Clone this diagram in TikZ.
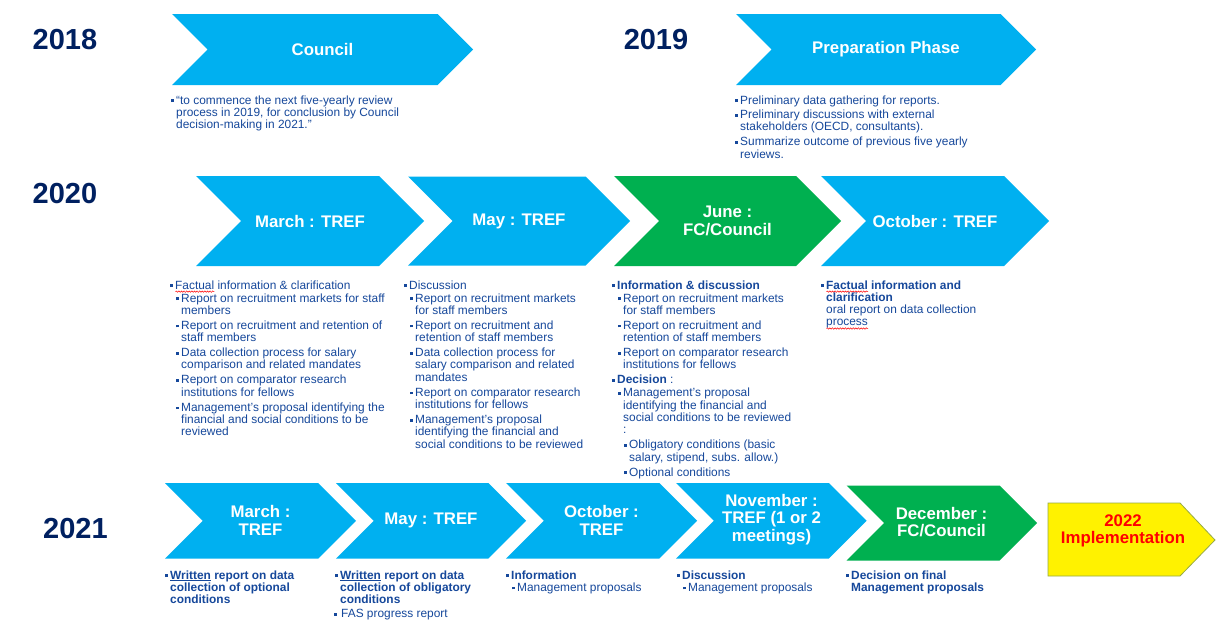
\documentclass[tikz,border=0pt]{standalone}
\usepackage{fontspec}
\setmainfont{Liberation Sans}
\usetikzlibrary{decorations.pathmorphing}
\definecolor{cyanb}{HTML}{00B0F0}
\definecolor{greenb}{HTML}{00B050}
\definecolor{navy}{HTML}{002060}
\definecolor{bodyc}{RGB}{22,72,155}
\definecolor{olivec}{RGB}{150,170,70}
\newlength\splen
\newcommand\bul{\rule[2pt]{2.7pt}{2.7pt}}
\newcommand\bi[2]{\par{\leftskip=#1\relax\noindent\llap{\bul\hspace{2.7pt}}#2\par}}
\newcommand\gp{\vspace{2.7pt}}
\newcommand\gq{\vspace{0.7pt}}
\newcommand\spell[1]{\leavevmode\settowidth\splen{#1}\rlap{\tikz[baseline=0pt]\draw[red,line width=0.5pt,decorate,decoration={snake,amplitude=0.7pt,segment length=2.6pt}] (0pt,-2.6pt) -- (\splen,-2.6pt);}#1}
\newcommand\colbox[1]{\begin{minipage}[t]{300pt}\raggedright\setlength\parskip{0pt}#1\end{minipage}}
\newcommand\chev[5]{\fill[#1] (#2,#4) -- ({#3-(#5-#4)/2},#4) -- (#3,{(#4+#5)/2}) -- ({#3-(#5-#4)/2},#5) -- (#2,#5) -- ({#2+(#5-#4)/2},{(#4+#5)/2}) -- cycle;}
\begin{document}
\begin{tikzpicture}[x=1pt,y=-1pt,
  yearlbl/.style={font=\fontsize{29}{30}\selectfont\bfseries, text=navy, inner sep=0},
  ttl/.style={font=\fontsize{16.8}{17.5}\selectfont\bfseries, text=white, align=center, inner sep=0},
  col/.style={anchor=base west, inner sep=0, text=bodyc, font=\fontsize{11.9}{12.3}\selectfont}]
\useasboundingbox (0,0) rectangle (1226,621);
\fill[white] (0,0) rectangle (1226,621);
% years
\node[yearlbl] (y2018) at (65,39.5) {2018};
\node[yearlbl] (y2019) at (656,39.5) {2019};
\node[yearlbl] (y2020) at (65,194) {2020};
\node[yearlbl] (y2021) at (75.5,529) {2021};
% chevrons
\chev{cyanb}{172}{473}{14}{85}
\chev{cyanb}{736}{1036}{14}{85}
\chev{cyanb}{196}{424}{176}{266}
\chev{cyanb}{408}{630}{176.5}{265.5}
\chev{greenb}{614}{841}{176}{266}
\chev{cyanb}{821}{1049}{176}{266}
\chev{cyanb}{165}{356}{483}{558.5}
\chev{cyanb}{336}{526}{483}{558.5}
\chev{cyanb}{506}{697}{483}{558.5}
\chev{cyanb}{676}{866.5}{483}{558.5}
\chev{greenb}{846.5}{1037}{485.5}{560.5}
\draw[olivec, fill=yellow, line width=0.8pt] (1048,503) -- (1180,503) -- (1215,540) -- (1180,576) -- (1048,576) -- cycle;
% titles
\node[ttl] (c18) at (322.5,49.5) {Council};
\node[ttl] (p19) at (886,49.5) {Preparation Phase};
\node[ttl] (m20) at (310,221) {March : TREF};
\node[ttl] (my20) at (519,221) {May : TREF};
\node[ttl] (j20) at (727.5,221) {June :\\FC/Council};
\node[ttl] (o20) at (935,221) {October : TREF};
\node[ttl] (m21) at (260.5,520.5) {March :\\TREF};
\node[ttl] (my21) at (431,520.5) {May : TREF};
\node[ttl] (o21) at (601.5,520.5) {October :\\TREF};
\node[ttl] (n21) at (771.5,519.5) {November :\\TREF (1 or 2\\meetings)};
\node[ttl] (d21) at (941.5,522) {December :\\FC/Council};
\node[ttl, text=red] (imp) at (1123,531) {2022\\Implementation};
% 2018 / 2019 texts
\node[col] (t18) at (176,104) {\colbox{\bi{0pt}{“to commence the next five-yearly review\\process in 2019, for conclusion by Council\\decision-making in 2021.”}}};
\node[col] (t19) at (740,104) {\colbox{%
\bi{0pt}{Preliminary data gathering for reports.}\vspace{2.2pt}%
\bi{0pt}{Preliminary discussions with external\\stakeholders (OECD, consultants).}\gp
\bi{0pt}{Summarize outcome of previous five yearly\\reviews.}}};
% 2020 texts
\node[col] (t20a) at (175,289) {\colbox{%
\bi{0pt}{\spell{Factual} information \& clarification}\gq
\bi{6pt}{Report on recruitment markets for staff\\members}\gp
\bi{6pt}{Report on recruitment and retention of\\staff members}\gp
\bi{6pt}{Data collection process for salary\\comparison and related mandates}\gp
\bi{6pt}{Report on comparator research\\institutions for fellows}\gp
\bi{6pt}{Management's proposal identifying the\\financial and social conditions to be\\reviewed}}};
\node[col] (t20b) at (409,289) {\colbox{%
\bi{0pt}{Discussion}\gq
\bi{6pt}{Report on recruitment markets\\for staff members}\gp
\bi{6pt}{Report on recruitment and\\retention of staff members}\gp
\bi{6pt}{Data collection process for\\salary comparison and related\\mandates}\gp
\bi{6pt}{Report on comparator research\\institutions for fellows}\gp
\bi{6pt}{Management's proposal\\identifying the financial and\\social conditions to be reviewed}}};
\node[col] (t20c) at (617,289) {\colbox{%
\bi{0pt}{{\bfseries Information \& discussion}}\gq
\bi{6pt}{Report on recruitment markets\\for staff members}\gp
\bi{6pt}{Report on recruitment and\\retention of staff members}\gp
\bi{6pt}{Report on comparator research\\institutions for fellows}\gp
\bi{0pt}{{\bfseries Decision} :}\gq
\bi{6pt}{Management's proposal\\identifying the financial and\\social conditions to be reviewed\\:}\gp
\bi{12pt}{Obligatory conditions (basic\\salary, stipend, subs. allow.)}\gp
\bi{12pt}{Optional conditions}}};
\node[col] (t20d) at (826,289) {\colbox{%
\bi{0pt}{{\bfseries\spell{Factual} information and\\clarification}\\oral report on data collection\\\spell{process}}}};
% 2021 texts
\node[col] (t21a) at (170,579) {\colbox{%
\bi{0pt}{{\bfseries\underline{Written} report on data\\collection of optional\\conditions}}}};
\node[col] (t21b) at (340,579) {\colbox{%
\bi{0pt}{{\bfseries\underline{Written} report on data\\collection of obligatory\\conditions}}\vspace{1.8pt}%
\par{\leftskip=1pt\noindent\llap{\bul\hspace{4.5pt}}FAS progress report\par}}};
\node[col] (t21c) at (511,579) {\colbox{%
\bi{0pt}{{\bfseries Information}}%
\bi{6pt}{Management proposals}}};
\node[col] (t21d) at (682,579) {\colbox{%
\bi{0pt}{{\bfseries Discussion}}%
\bi{6pt}{Management proposals}}};
\node[col] (t21e) at (851,579) {\colbox{%
\bi{0pt}{{\bfseries Decision on final\\Management proposals}}}};
\end{tikzpicture}
\end{document}
